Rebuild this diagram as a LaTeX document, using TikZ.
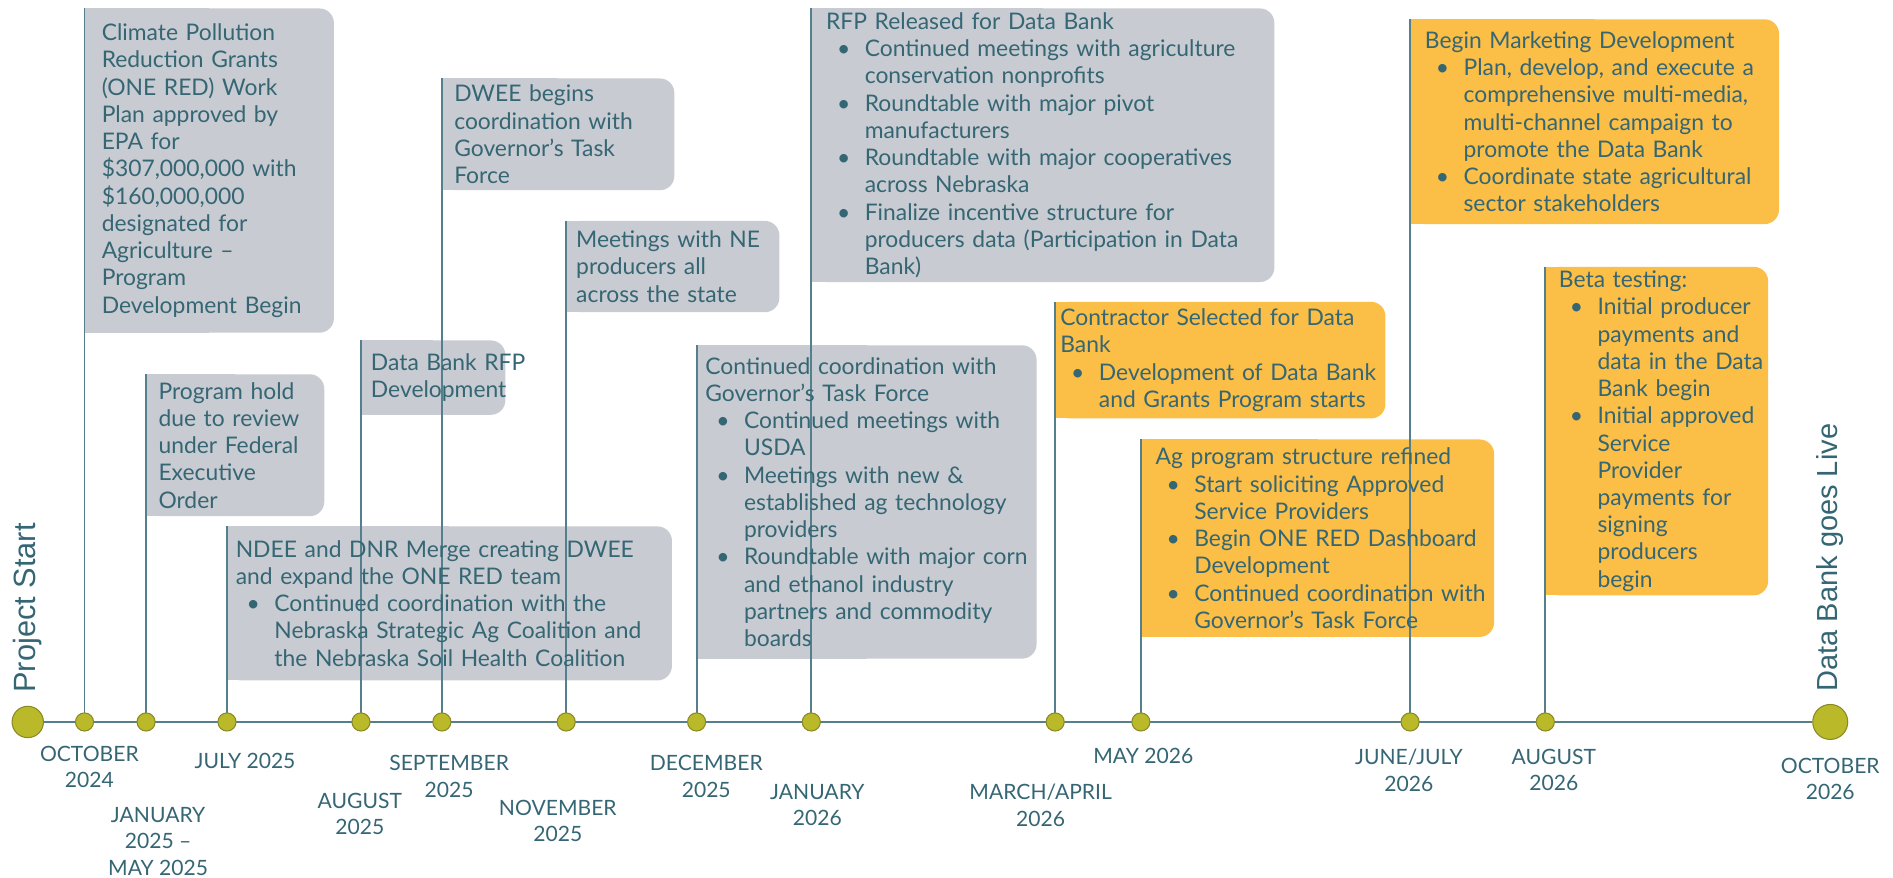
\documentclass[tikz,border=0pt]{standalone}
\usepackage{fontspec}
\setmainfont{Lato}
\newfontfamily\edgefont{Liberation Sans}
\usetikzlibrary{backgrounds}
\definecolor{ink}{HTML}{356674}
\definecolor{stemcol}{HTML}{54808E}
\definecolor{boxgrey}{HTML}{C8CBD1}
\definecolor{boxgold}{HTML}{FBBE46}
\definecolor{dotfill}{HTML}{BAB92A}
\definecolor{dotline}{HTML}{8A8A24}
\newlength\tlpx
\setlength\tlpx{0.024146cm}
\newcommand\bul[1]{\mbox{\hspace*{9\tlpx}\makebox[23\tlpx][l]{\textbullet}#1}}
\newcommand\cnt[1]{\mbox{\hspace*{32\tlpx}#1}}
\tikzset{
  ebox/.style={anchor=north west, align=left, inner xsep=10\tlpx, inner ysep=3\tlpx,
    text=ink, font=\fontsize{13pt}{15.5pt}\selectfont},
  dot/.style={circle, fill=dotfill, draw=dotline, line width=0.6pt, inner sep=0pt,
    minimum size=15\tlpx},
  bigdot/.style={dot, minimum size=26\tlpx},
  date/.style={align=center, text=ink, inner sep=0pt,
    font=\fontsize{12pt}{15pt}\selectfont},
  edge label/.style={anchor=base west, rotate=90, text=ink, inner sep=0pt},
  stem/.style={draw=stemcol, line width=1.1pt},
  axisline/.style={draw=stemcol, line width=1.6pt}
}
\begin{document}
\begin{tikzpicture}[x=0.024146cm, y=-0.024146cm]
\useasboundingbox (0,0) rectangle (1568,727);
% timeline dots
\node[bigdot] (s) at (23,598) {};
\node[bigdot, minimum size=29\tlpx] (f) at (1516,598) {};
\foreach \i/\x in {1/70,2/121,3/188,4/299,5/366,6/469,7/577,8/672,9/874,10/945,11/1168,12/1280}
  \node[dot] (d\i) at (\x,598) {};
\node[edge label, font=\edgefont\fontsize{17.5pt}{19pt}\selectfont] (ps) at (29,574) {Project Start};
\node[edge label, font=\edgefont\fontsize{16.5pt}{18pt}\selectfont] (dl) at (1522,573) {Data Bank goes Live};
% grey boxes
\node[ebox, inner xsep=14\tlpx, text width=178\tlpx, minimum height=268\tlpx] (e1) at (70,7)
  {Climate Pollution\\Reduction Grants\\(ONE RED) Work\\Plan approved by\\EPA for\\\mbox{\$307,000,000 with}\\\$160,000,000\\designated for\\Agriculture –\\Program\\\mbox{Development Begin}};
\node[ebox, text width=127\tlpx, minimum height=117\tlpx] (e2) at (121,310)
  {Program hold\\due to review\\under Federal\\Executive\\Order};
\node[ebox, inner xsep=7\tlpx, text width=354\tlpx, minimum height=127\tlpx] (e3) at (188,436)
  {\mbox{NDEE and DNR Merge creating DWEE}\\and expand the ONE RED team\\
   \bul{Continued coordination with the}\\\cnt{Nebraska Strategic Ag Coalition and}\\\cnt{the Nebraska Soil Health Coalition}};
\node[ebox, inner xsep=8\tlpx, text width=103\tlpx, minimum height=61\tlpx] (e4) at (299,282)
  {\mbox{Data Bank RFP}\\Development};
\node[ebox, text width=172\tlpx, minimum height=92\tlpx] (e5) at (366,65)
  {DWEE begins\\coordination with\\Governor’s Task\\Force};
\node[ebox, inner xsep=8\tlpx, text width=160\tlpx, minimum height=75\tlpx] (e6) at (469,183)
  {\mbox{Meetings with NE}\\producers all\\across the state};
\node[ebox, inner xsep=7\tlpx, text width=267\tlpx, minimum height=259\tlpx] (e7) at (577,286)
  {\mbox{Continued coordination with}\\Governor’s Task Force\\
   \bul{Continued meetings with}\\\cnt{USDA}\\
   \bul{Meetings with new \&}\\\cnt{established ag technology}\\\cnt{providers}\\
   \bul{Roundtable with major corn}\\\cnt{and ethanol industry}\\\cnt{partners and commodity}\\\cnt{boards}};
\node[ebox, inner xsep=12\tlpx, text width=359\tlpx, minimum height=226\tlpx] (e8) at (672,7)
  {RFP Released for Data Bank\\
   \bul{Continued meetings with agriculture}\\\cnt{conservation nonprofits}\\
   \bul{Roundtable with major pivot}\\\cnt{manufacturers}\\
   \bul{Roundtable with major cooperatives}\\\cnt{across Nebraska}\\
   \bul{Finalize incentive structure for}\\\cnt{producers data (Participation in Data}\\\cnt{Bank)}};
% gold boxes
\node[ebox, inner xsep=4\tlpx, text width=265\tlpx, minimum height=96\tlpx] (e9) at (874,250)
  {\mbox{Contractor Selected for Data}\\Bank\\
   \bul{Development of Data Bank}\\\cnt{and Grants Program starts}};
\node[ebox, inner xsep=12\tlpx, text width=268\tlpx, minimum height=163\tlpx] (e10) at (945,364)
  {\mbox{Ag program structure refined}\\
   \bul{Start soliciting Approved}\\\cnt{Service Providers}\\
   \bul{Begin ONE RED Dashboard}\\\cnt{Development}\\
   \bul{Continued coordination with}\\\cnt{Governor’s Task Force}};
\node[ebox, inner xsep=12\tlpx, text width=281\tlpx, minimum height=169\tlpx] (e11) at (1168,16)
  {\mbox{Begin Marketing Development}\\
   \bul{Plan, develop, and execute a}\\\cnt{comprehensive multi-media,}\\\cnt{multi-channel campaign to}\\\cnt{promote the Data Bank}\\
   \bul{Coordinate state agricultural}\\\cnt{sector stakeholders}};
\node[ebox, inner xsep=11\tlpx, text width=162\tlpx, minimum height=266\tlpx] (e12) at (1280,221)
  {Beta testing:\\
   \bul{Initial producer}\\\cnt{payments and}\\\cnt{data in the Data}\\\cnt{Bank begin}\\
   \bul{Initial approved}\\\cnt{Service}\\\cnt{Provider}\\\cnt{payments for}\\\cnt{signing}\\\cnt{producers}\\\cnt{begin}};
% dates
\node[date] (l1) at (74,635) {OCTOBER\\2024};
\node[date] (l2) at (131,697) {JANUARY\\2025 –\\MAY 2025};
\node[date] (l3) at (203,630) {JULY 2025};
\node[date] (l4) at (298,674) {AUGUST\\2025};
\node[date] (l5) at (372,643) {SEPTEMBER\\2025};
\node[date] (l6) at (462,680) {NOVEMBER\\2025};
\node[date] (l7) at (585,643) {DECEMBER\\2025};
\node[date] (l8) at (677,667) {JANUARY\\2026};
\node[date] (l9) at (862,667) {MARCH/APRIL\\2026};
\node[date] (l10) at (947,626) {MAY 2026};
\node[date] (l11) at (1167,638) {JUNE/JULY\\2026};
\node[date] (l12) at (1287,638) {AUGUST\\2026};
\node[date] (l13) at (1516,645) {OCTOBER\\2026};
\begin{pgfonlayer}{background}
\foreach \n/\c in {e1/boxgrey,e2/boxgrey,e3/boxgrey,e4/boxgrey,e5/boxgrey,e6/boxgrey,e7/boxgrey,e8/boxgrey,e9/boxgold,e10/boxgold,e11/boxgold,e12/boxgold} {
  \fill[\c, rounded corners=12\tlpx] (\n.south west) rectangle (\n.north east);
  \fill[\c] (\n.south west) rectangle (\n.north);
}
\draw[axisline] (s) -- (f);
\foreach \i in {1,...,12}
  \draw[stem] (d\i.center) -- (e\i.north west);
\end{pgfonlayer}
\end{tikzpicture}
\end{document}
